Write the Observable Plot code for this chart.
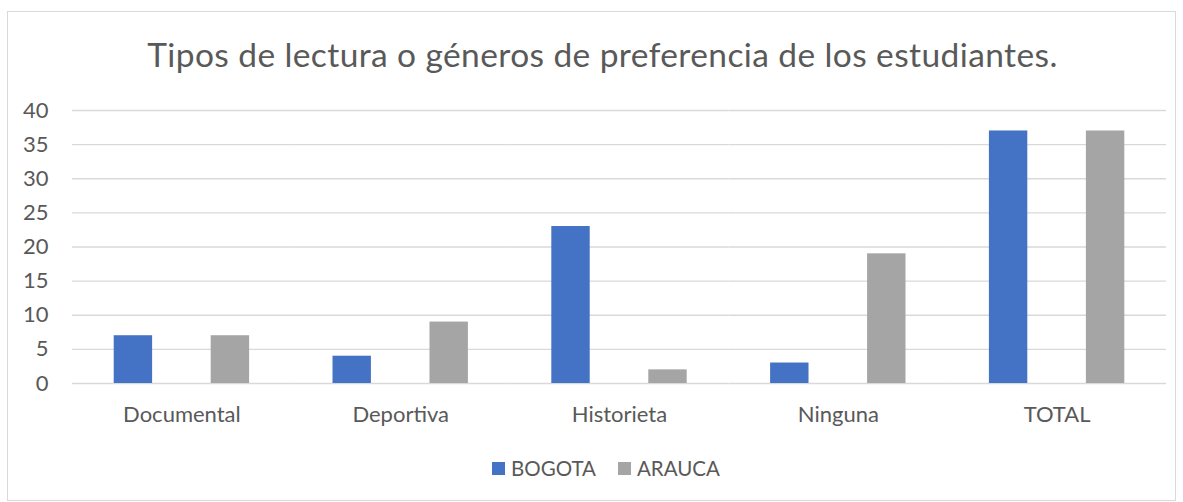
<!DOCTYPE html>
<html>
<head>
<meta charset="utf-8">
<script src="https://cdn.jsdelivr.net/npm/d3@7"></script>
<script src="https://cdn.jsdelivr.net/npm/@observablehq/plot@0.6"></script>
<style>
  html, body { margin: 0; padding: 0; background: #fff; }
  body { width: 1183px; height: 502px; position: relative; overflow: hidden; font-family: Lato, "Open Sans", sans-serif; }
  #frame { position: absolute; left: 7px; top: 11px; width: 1169px; height: 490px; border: 1px solid #d9d9d9; box-sizing: border-box; }
  #title { position: absolute; left: 11px; width: 1183px; top: 34px; text-align: center; font-size: 33.5px; letter-spacing: 0.4px; line-height: 40px; color: #595959; white-space: nowrap; }
  #chart { position: absolute; left: 0; top: 90px; }
  #legend { position: absolute; left: 492px; top: 455px; height: 26px; display: flex; align-items: center; gap: 22px; font-size: 20.5px; color: #595959; white-space: nowrap; }
  .item { display: flex; align-items: center; gap: 6px; }
  .sw { width: 13px; height: 13px; display: inline-block; }
</style>
</head>
<body>
<div id="frame"></div>
<div id="title">Tipos de lectura o géneros de preferencia de los estudiantes.</div>
<div id="chart"></div>
<div id="legend"></div>
<script>
const categories = ["Documental", "Deportiva", "Historieta", "Ninguna", "TOTAL"];
const series = ["BOGOTA", "ARAUCA"];
const bogota = [7, 4, 23, 3, 37];
const arauca = [7, 9, 2, 19, 37];
const colors = ["#4472C4", "#A5A5A5"];
const yTicks = [0, 5, 10, 15, 20, 25, 30, 35, 40];

const data = [];
categories.forEach((c, i) => {
  data.push({category: c, series: "BOGOTA", value: bogota[i]});
  data.push({category: c, series: "ARAUCA", value: arauca[i]});
});

const chart = Plot.plot({
  width: 1183,
  height: 345,
  marginTop: 20,
  marginBottom: 52,
  marginLeft: 72,
  marginRight: 17,
  style: {fontFamily: "Lato, 'Open Sans', sans-serif", fontSize: "22px", color: "#595959", background: "transparent"},
  fx: {domain: categories, padding: 0, round: false, label: null},
  x: {domain: series, paddingInner: 0.604, paddingOuter: 0.43, round: false, axis: null},
  y: {domain: [0, 40], label: null},
  color: {domain: series, range: colors},
  marks: [
    Plot.ruleY(yTicks, {stroke: "#d9d9d9", strokeWidth: 1.3}),
    Plot.barY(data, {fx: "category", x: "series", y: "value", fill: "series"}),
    Plot.axisY(yTicks, {tickSize: 0, tickPadding: 24, label: null, fill: "#595959", fontSize: 22}),
    Plot.axisFx({anchor: "bottom", tickSize: 0, tickPadding: 23, label: null, fill: "#595959", fontSize: 22})
  ]
});
document.getElementById("chart").appendChild(chart);

const legend = document.getElementById("legend");
series.forEach((s, i) => {
  const item = document.createElement("span");
  item.className = "item";
  const sw = document.createElement("span");
  sw.className = "sw";
  sw.style.background = colors[i];
  const t = document.createElement("span");
  t.textContent = s;
  item.appendChild(sw);
  item.appendChild(t);
  legend.appendChild(item);
});
</script>
</body>
</html>
